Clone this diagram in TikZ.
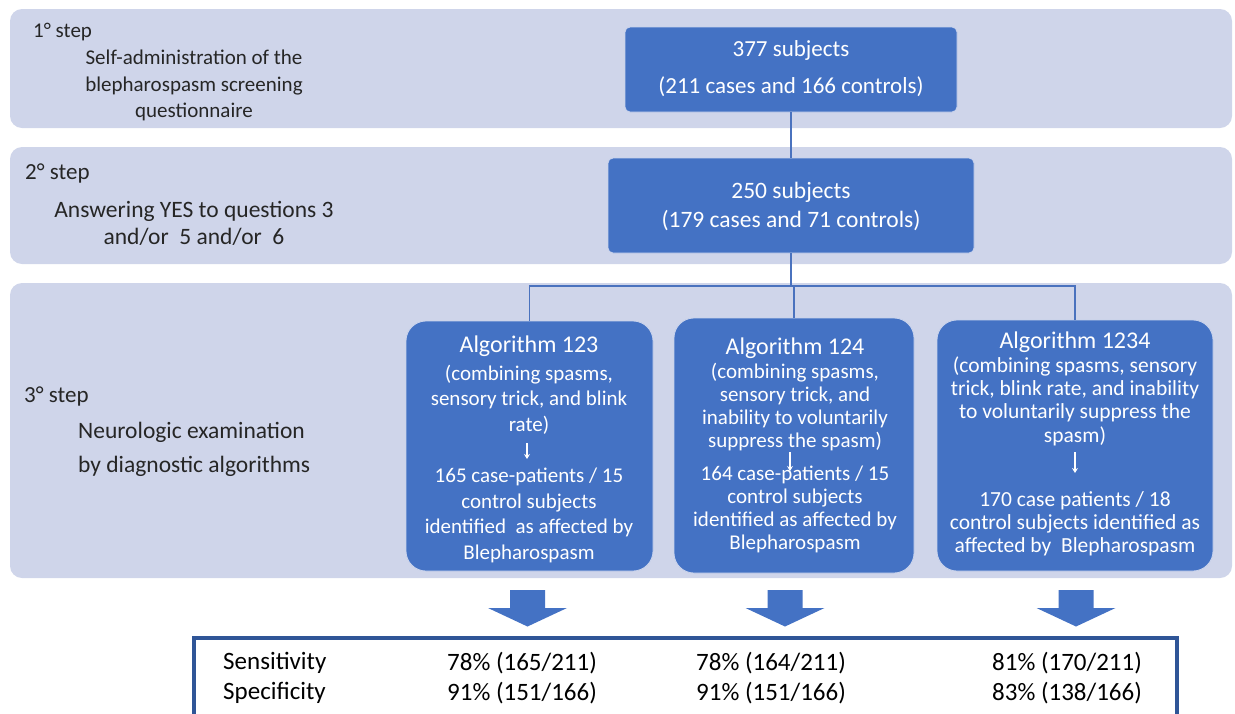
\documentclass[tikz,border=0pt]{standalone}
\usepackage{fontspec}
\setmainfont{Carlito}
\usetikzlibrary{arrows.meta}
\definecolor{band}{HTML}{CFD5EA}
\definecolor{boxblue}{HTML}{4472C4}
\definecolor{boxedge}{HTML}{C9D3EC}
\definecolor{linkblue}{HTML}{4A72BE}
\definecolor{tabblue}{HTML}{2F5597}
\definecolor{steptext}{HTML}{262626}
\tikzset{
  bandbox/.style={fill=band, draw=none, rounded corners=12pt, inner sep=0pt},
  bluebox/.style={fill=boxblue, draw=boxedge, line width=0.8pt, inner sep=0pt},
  link/.style={draw=linkblue, line width=1.1pt},
  smallarrow/.style={draw=white, line width=1.4pt, -{Stealth[length=5pt,width=6pt]}},
  steplabel/.style={text=steptext, inner sep=0pt, anchor=west},
  steptext/.style={text=steptext, inner sep=0pt, align=center},
  wtext/.style={text=white, inner sep=0pt, align=center},
  bigarrow/.style={fill=boxblue, draw=none},
}
\begin{document}
\begin{tikzpicture}[x=1pt,y=-1pt]
\useasboundingbox (0,0) rectangle (1235,713);
% bands
\node[bandbox, minimum width=1222pt, minimum height=119pt] (b1) at (621,68.5) {};
\node[bandbox, minimum width=1222pt, minimum height=117pt] (b2) at (621,205.5) {};
\node[bandbox, minimum width=1222pt, minimum height=295pt] (b3) at (621,430.5) {};

% step texts
\node[steplabel, font={\fontsize{21}{26}\selectfont}] (s1) at (33,32) {1° step};
\node[steptext, font={\fontsize{21}{26.5}\selectfont}] (s1t) at (194,85.5) {Self-administration of the\\blepharospasm screening\\questionnaire};
\node[steplabel, font={\fontsize{23}{27}\selectfont}] (s2) at (25,173) {2° step};
\node[steptext, font={\fontsize{23.5}{27}\selectfont}] (s2t) at (194,223.5) {Answering YES to questions 3\\and/or\ \ 5 and/or\ \ 6};
\node[steplabel, font={\fontsize{23}{27}\selectfont}] (s3) at (24,396) {3° step};
\node[steptext, align=left, anchor=west, font={\fontsize{23.5}{34.5}\selectfont}] (s3t) at (78,449.5) {Neurologic examination\\by diagnostic algorithms};

% subject boxes
\node[bluebox, rounded corners=5pt, minimum width=332pt, minimum height=85pt] (box1) at (791,69.5) {};
\node[wtext, font={\fontsize{23}{37}\selectfont}] (box1t) at (791,68.5) {377 subjects\\(211 cases and 166 controls)};
\node[bluebox, rounded corners=5pt, minimum width=366pt, minimum height=95pt] (box2) at (791,205.5) {};
\node[wtext, font={\fontsize{23.5}{29}\selectfont}] (box2t) at (791,206.5) {250 subjects\\(179 cases and 71 controls)};

% algorithm boxes
\node[bluebox, rounded corners=20pt, minimum width=247pt, minimum height=250pt] (a1) at (529.5,446) {};
\node[bluebox, rounded corners=20pt, minimum width=240pt, minimum height=255pt] (a2) at (794,445.5) {};
\node[bluebox, rounded corners=20pt, minimum width=276pt, minimum height=251pt] (a3) at (1075,445.5) {};

% connectors
\coordinate (j) at (box2.south |- 0,286);
\coordinate (j2) at (a2.north |- 0,286);
\draw[link] (box1.south) -- (box2.north);
\draw[link] (box2.south) -- (j);
\draw[link] (a1.north) |- (j) -| (a3.north);
\draw[link] (j2) -- (a2.north);

% algorithm 123
\node[wtext, font={\fontsize{24}{28}\selectfont}] (a1h) at (529,346) {Algorithm 123};
\node[wtext, font={\fontsize{21}{25.5}\selectfont}] (a1d) at (529,399.5) {(combining spasms,\\sensory trick, and blink\\rate)};
\node[wtext, font={\fontsize{21}{25.7}\selectfont}] (a1r) at (529,515.5) {165 case-patients / 15\\control subjects\\identified\ \ as affected by\\Blepharospasm};
\coordinate (a1s) at (527,443);
\coordinate (a1e) at (527,459);
\draw[smallarrow] (a1s) -- (a1e);

% algorithm 124
\node[wtext, font={\fontsize{24}{28}\selectfont}] (a2h) at (795,348) {Algorithm 124};
\node[wtext, font={\fontsize{21}{23}\selectfont}] (a2d) at (795,407.5) {(combining spasms,\\sensory trick, and\\inability to voluntarily\\suppress the spasm)};
\node[wtext, font={\fontsize{21}{23}\selectfont}] (a2r) at (795,509.5) {164 case-patients / 15\\control subjects\\identified as affected by\\Blepharospasm};
\coordinate (a2s) at (790,452);
\coordinate (a2e) at (790,471);
\draw[smallarrow] (a2s) -- (a2e);

% algorithm 1234
\node[wtext, font={\fontsize{24}{28}\selectfont}] (a3h) at (1075,342) {Algorithm 1234};
\node[wtext, font={\fontsize{21.5}{23.3}\selectfont}] (a3d) at (1075,401) {(combining spasms, sensory\\trick, blink rate, and inability\\to voluntarily suppress the\\spasm)};
\node[wtext, font={\fontsize{21.5}{23}\selectfont}] (a3r) at (1075,524) {170 case patients / 18\\control subjects identified as\\affected by\ \ Blepharospasm};
\coordinate (a3s) at (1075,452);
\coordinate (a3e) at (1075,473);
\draw[smallarrow] (a3s) -- (a3e);

% big arrows
\foreach \cx in {527.5,785,1076} {
  \fill[bigarrow] (\cx-17.5,590) -- (\cx+17.5,590) -- (\cx+17.5,608) -- (\cx+39.5,608)
    -- (\cx,626.5) -- (\cx-39.5,608) -- (\cx-17.5,608) -- cycle;
}

% table
\draw[draw=tabblue, line width=3.2pt, fill=white] (194,638) rectangle (1177,730);
\node[inner sep=0pt, anchor=west, font={\fontsize{25}{30}\selectfont}] (sens) at (223,663) {Sensitivity};
\node[inner sep=0pt, anchor=west, font={\fontsize{25}{30}\selectfont}] (spec) at (223,693) {Specificity};
\node[inner sep=0pt, align=center, font={\fontsize{25}{30}\selectfont}] (c1) at (522,678) {78\% (165/211)\\91\% (151/166)};
\node[inner sep=0pt, align=center, font={\fontsize{25}{30}\selectfont}] (c2) at (771,678) {78\% (164/211)\\91\% (151/166)};
\node[inner sep=0pt, align=center, font={\fontsize{25}{30}\selectfont}] (c3) at (1067,678) {81\% (170/211)\\83\% (138/166)};
\end{tikzpicture}
\end{document}
